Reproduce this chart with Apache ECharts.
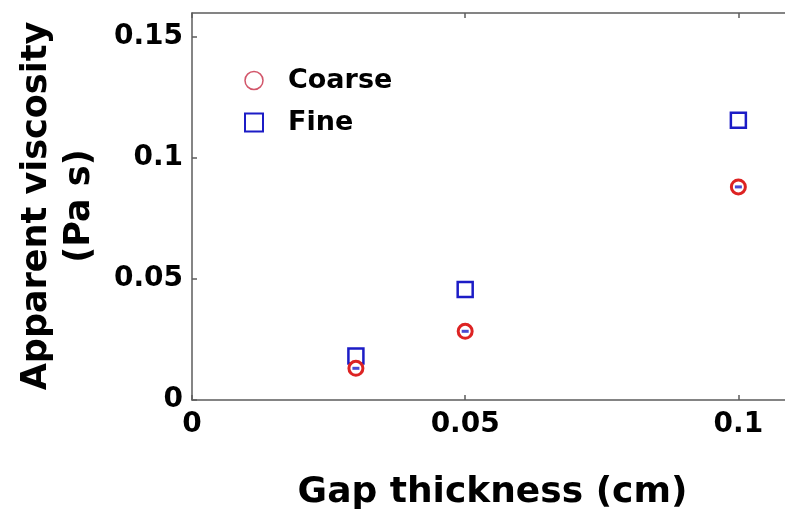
<!DOCTYPE html>
<html>
<head>
<meta charset="utf-8">
<script src="https://cdn.jsdelivr.net/npm/echarts@6/dist/echarts.min.js"></script>
<style>
  html, body { margin: 0; padding: 0; background: #fff; }
  #chart { width: 785px; height: 513px; }
</style>
</head>
<body>
<div id="chart"></div>
<script>
// Gap thickness (cm) at which viscosity was measured
const gapThickness = [0.03, 0.05, 0.1];
// Apparent viscosity (Pa s) for each powder grade
const coarseViscosity = [0.0131, 0.0284, 0.0881];
const fineViscosity = [0.0182, 0.0457, 0.1157];
// Axis extents and tick spacing
const xRange = [0, 0.11];
const yRange = [0, 0.16];
const tickStep = 0.05;

const RED = '#dd2323';
const BLUE = '#1c1cc6';
const AXIS = '#5c5c5c';
const FONT = '"DejaVu Sans", sans-serif';

const pairs = (xs, ys) => xs.map((x, i) => [x, ys[i]]);

const chart = echarts.init(document.getElementById('chart'), null, { renderer: 'canvas' });

const axisCommon = {
  type: 'value',
  interval: tickStep,
  axisLine: { show: true, onZero: false, lineStyle: { color: AXIS, width: 1.5 } },
  axisTick: { show: true, inside: true, length: 5, lineStyle: { color: AXIS, width: 1.5 } },
  splitLine: { show: false }
};

chart.setOption({
  backgroundColor: '#fff',
  animation: false,
  grid: { left: 192, top: 13, width: 601, height: 387, containLabel: false, outerBoundsMode: 'none' },
  legend: {
    orient: 'vertical',
    left: 239,
    top: 62,
    itemWidth: 18,
    itemHeight: 18,
    itemGap: 15,
    textStyle: { fontFamily: FONT, fontWeight: 'bold', fontSize: 27, color: '#000', padding: [0, 0, 0, 20] },
    data: [
      { name: 'Coarse', icon: 'circle', itemStyle: { color: '#fff', borderColor: '#d2566a', borderWidth: 1.5 } },
      { name: 'Fine', icon: 'rect', itemStyle: { color: '#fff', borderColor: BLUE, borderWidth: 2 } }
    ]
  },
  xAxis: [
    Object.assign({}, axisCommon, {
      position: 'bottom',
      min: xRange[0], max: xRange[1],
      name: 'Gap thickness (cm)',
      nameLocation: 'middle',
      nameGap: 75,
      nameTextStyle: { fontFamily: FONT, fontWeight: 'bold', fontSize: 36, color: '#000' },
      axisLabel: { showMaxLabel: false, margin: 11, fontFamily: FONT, fontWeight: 'bold', fontSize: 28, color: '#000' }
    }),
    Object.assign({}, axisCommon, {
      position: 'top',
      min: xRange[0], max: xRange[1],
      axisLabel: { show: false }
    })
  ],
  yAxis: [
    Object.assign({}, axisCommon, {
      position: 'left',
      min: yRange[0], max: yRange[1],
      axisLabel: { showMaxLabel: false, margin: 9, fontFamily: FONT, fontWeight: 'bold', fontSize: 28, color: '#000' }
    }),
    Object.assign({}, axisCommon, {
      position: 'right',
      min: yRange[0], max: yRange[1],
      axisLabel: { show: false }
    })
  ],
  graphic: [{
    type: 'text',
    x: 58,
    y: 206,
    rotation: Math.PI / 2,
    style: {
      text: 'Apparent viscosity\n(Pa s)',
      font: 'bold 35px ' + FONT,
      fill: '#000',
      align: 'center',
      verticalAlign: 'middle',
      textAlign: 'center',
      textVerticalAlign: 'middle',
      lineHeight: 43
    }
  }],
  series: [
    {
      name: 'Coarse',
      type: 'scatter',
      symbol: 'circle',
      symbolSize: 14,
      itemStyle: { color: '#fff', borderColor: RED, borderWidth: 3, opacity: 1 },
      data: pairs(gapThickness, coarseViscosity),
      z: 3
    },
    {
      name: 'Fine',
      type: 'scatter',
      symbol: 'rect',
      symbolSize: 15,
      itemStyle: { color: 'rgba(255,255,255,0)', borderColor: BLUE, borderWidth: 2.5, opacity: 1 },
      data: pairs(gapThickness, fineViscosity),
      z: 2
    },
    {
      // short bar marking the centre of each coarse reading
      name: 'Coarse centre',
      type: 'scatter',
      symbol: 'rect',
      symbolSize: [7, 3],
      itemStyle: { color: BLUE },
      data: pairs(gapThickness, coarseViscosity),
      z: 4
    }
  ]
});
</script>
</body>
</html>
